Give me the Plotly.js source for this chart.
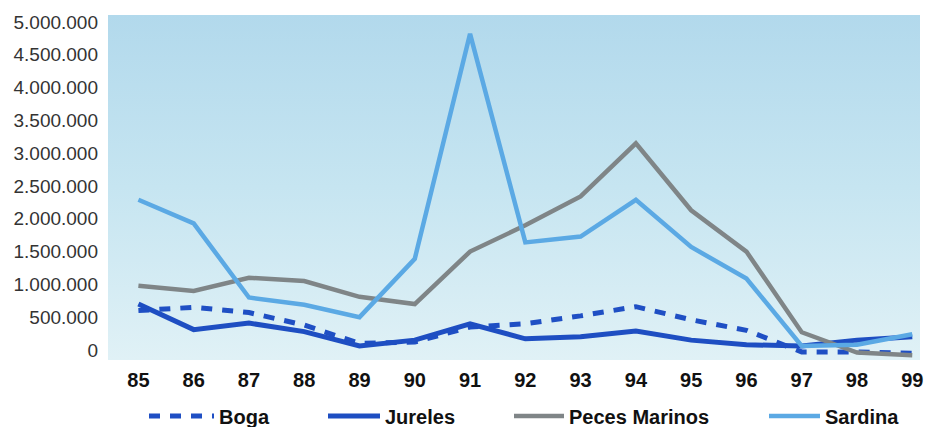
<!DOCTYPE html>
<html>
<head>
<meta charset="utf-8">
<script src="https://cdn.plot.ly/plotly-3.0.1.min.js"></script>
<style>html,body{margin:0;padding:0;background:#fff;}#chart{width:927px;height:427px;}</style>
</head>
<body>
<div id="chart"></div>
<script>
var years = [85, 86, 87, 88, 89, 90, 91, 92, 93, 94, 95, 96, 97, 98, 99];
var yearLabels = ["85","86","87","88","89","90","91","92","93","94","95","96","97","98","99"];
var boga = [600000, 650000, 570000, 380000, 100000, 120000, 350000, 400000, 520000, 660000, 460000, 300000, -30000, -30000, -50000];
var jureles = [700000, 310000, 410000, 280000, 60000, 150000, 400000, 170000, 200000, 290000, 150000, 80000, 60000, 150000, 200000];
var pecesMarinos = [980000, 900000, 1100000, 1050000, 810000, 700000, 1500000, 1900000, 2340000, 3150000, 2130000, 1500000, 270000, -40000, -80000];
var sardina = [2290000, 1930000, 800000, 690000, 500000, 1390000, 4820000, 1640000, 1730000, 2290000, 1570000, 1090000, 60000, 80000, 240000];
var yTicks = [0, 500000, 1000000, 1500000, 2000000, 2500000, 3000000, 3500000, 4000000, 4500000, 5000000];

var grad = 'data:image/svg+xml;utf8,' + encodeURIComponent(
  '<svg xmlns="http://www.w3.org/2000/svg" width="100" height="100" preserveAspectRatio="none">' +
  '<defs><linearGradient id="g" x1="0" y1="0" x2="0" y2="1">' +
  '<stop offset="0" stop-color="#b2d9ec"/><stop offset="0.5" stop-color="#c6e5f1"/><stop offset="1" stop-color="#e0f1f6"/>' +
  '</linearGradient></defs><rect width="100" height="100" fill="url(#g)"/></svg>');

var legFont = {family: '"Liberation Sans Narrow", "Liberation Sans", Arial, sans-serif', size: 20, color: '#111111', weight: 'bold'};
function leg(xpx, iw) {
  return {orientation: 'h', xref: 'container', yref: 'container', x: xpx / 927, xanchor: 'left',
          y: 11 / 427, yanchor: 'middle', bgcolor: 'rgba(0,0,0,0)', itemwidth: iw, font: legFont};
}

var traces = [
  {x: years, y: boga, name: 'Boga', mode: 'lines', legend: 'legend', line: {color: '#1f4fc4', width: 5, dash: '11px,10px'}},
  {x: years, y: jureles, name: 'Jureles', mode: 'lines', legend: 'legend2', line: {color: '#1e4ec2', width: 5}},
  {x: years, y: pecesMarinos, name: 'Peces Marinos', mode: 'lines', legend: 'legend3', line: {color: '#7f8587', width: 4.5}},
  {x: years, y: sardina, name: 'Sardina', mode: 'lines', legend: 'legend4', line: {color: '#5ba9e4', width: 4.5}}
];

var layout = {
  width: 927, height: 427,
  margin: {l: 108, r: 7, t: 15, b: 67, autoexpand: false},
  paper_bgcolor: '#ffffff',
  plot_bgcolor: 'rgba(0,0,0,0)',
  separators: ',.',
  showlegend: true,
  images: [{source: grad, xref: 'paper', yref: 'paper', x: 0, y: 1, sizex: 1, sizey: 1,
            sizing: 'stretch', xanchor: 'left', yanchor: 'top', layer: 'below'}],
  xaxis: {
    range: [84.45, 99.14], tickvals: years, ticktext: yearLabels,
    showgrid: false, zeroline: false, showline: false, ticks: '', automargin: false,
    ticklabelstandoff: 6,
    tickfont: {family: '"Liberation Sans Narrow", "Liberation Sans", Arial, sans-serif', size: 20, color: '#111111', weight: 'bold'}
  },
  yaxis: {
    range: [-153000, 5107000], tickvals: yTicks, tickformat: ',d',
    showgrid: false, zeroline: false, showline: false, ticks: '', automargin: false,
    ticklabelstandoff: 9,
    tickfont: {family: '"Liberation Sans", Arial, sans-serif', size: 19, color: '#333333'}
  },
  legend: leg(144, 65),
  legend2: leg(323, 52),
  legend3: leg(509, 50),
  legend4: leg(764, 51)
};

Plotly.newPlot('chart', traces, layout, {displayModeBar: false, staticPlot: true});
</script>
</body>
</html>
